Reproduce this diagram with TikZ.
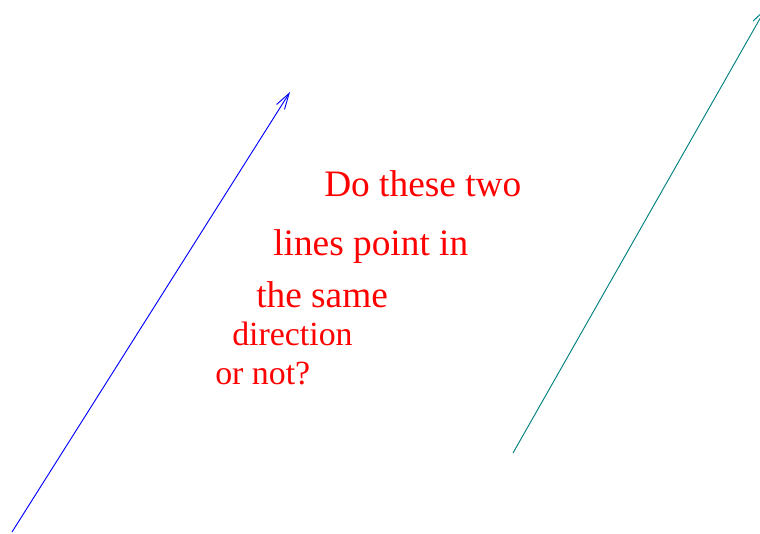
\documentclass[tikz,border=0pt]{standalone}
\usepackage{fontspec}
\setmainfont{Liberation Serif}
\usetikzlibrary{arrows.meta}

\begin{document}
\begin{tikzpicture}[x=0.75pt, y=-0.75pt, >={Straight Barb[length=12pt, width=7pt]},
  big/.style={anchor=base west, inner sep=0pt, text=red, font=\fontsize{28}{34}\selectfont},
  small/.style={big, font=\fontsize{25.4}{30}\selectfont},
  ln/.style={line width=0.7pt}]
  \useasboundingbox (0,0) rectangle (760,534);
  % the two lines
  \coordinate (bs) at (12,532);
  \coordinate (be) at (290,92);
  \coordinate (ts) at (513,453);
  \coordinate (te) at (766,8);
  \draw[ln, blue, ->] (bs) -- (be);
  \draw[ln, teal, ->] (ts) -- (te);
  % the question
  \node[big]   (q1) at (324,197) {Do these two};
  \node[big]   (q2) at (273,256) {lines point in};
  \node[big]   (q3) at (256,308) {the same};
  \node[small] (q4) at (232,346) {direction};
  \node[small] (q5) at (215,384) {or not?};
\end{tikzpicture}
\end{document}
